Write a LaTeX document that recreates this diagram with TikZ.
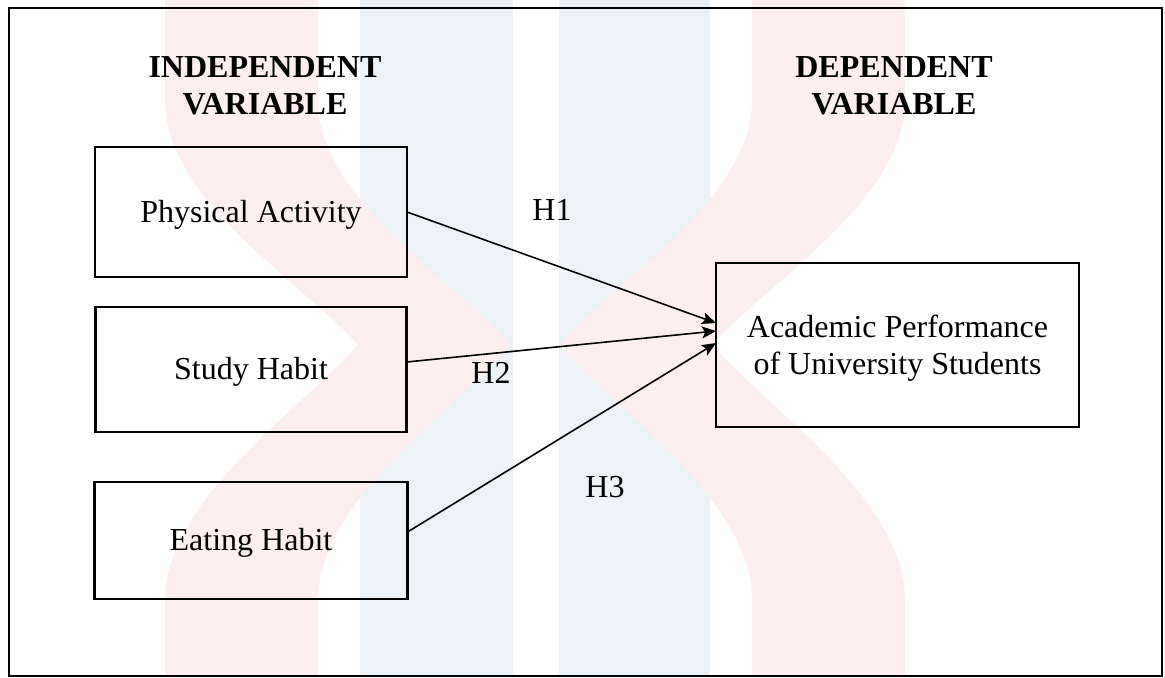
\documentclass[tikz,border=0pt]{standalone}
\usepackage{fontspec}
\setmainfont{Liberation Serif}
\usetikzlibrary{arrows.meta, positioning}
\definecolor{wmpink}{rgb}{0.992,0.937,0.937}
\definecolor{wmblue}{rgb}{0.929,0.949,0.969}
\newcommand{\figfont}{\fontsize{16}{18.5}\selectfont}
\tikzset{
  align=center,
  node distance=15pt,
  ivbox/.style={draw, rectangle, line width=1.2pt, outer sep=0pt, inner sep=0pt, text height=1em, text depth=0pt},
  dvbox/.style={draw, rectangle, line width=1.2pt, outer sep=0pt, inner sep=0pt, minimum width=181.5pt, minimum height=82pt, text depth=-7pt},
  head/.style={font=\figfont\bfseries, inner sep=0pt},
  hyp/.style={inner sep=0pt},
  hto/.style={-{Stealth[length=7pt,width=6pt,inset=1.5pt]}, line width=0.8pt},
  frame/.style={draw, line width=1.3pt}
}

\begin{document}
\begin{tikzpicture}[x=0.5pt, y=-0.5pt, font=\figfont]
  \useasboundingbox (0,0) rectangle (1165,677);

  \fill[wmblue] (360,0) rectangle (513,677);
  \fill[wmblue] (559,0) rectangle (710,677);
  \fill[wmpink] (165,0) -- (165,100) .. controls (165,200) and (300,280) .. (358,345)
    .. controls (300,410) and (165,500) .. (165,600) -- (165,677) -- (318,677) -- (318,600)
    .. controls (318,500) and (455,410) .. (511,345) .. controls (455,280) and (318,200) .. (318,100) -- (318,0) -- cycle;
  \fill[wmpink] (905,0) -- (905,100) .. controls (905,200) and (770,280) .. (712,345)
    .. controls (770,410) and (905,500) .. (905,600) -- (905,677) -- (752,677) -- (752,600)
    .. controls (752,500) and (615,410) .. (559,345) .. controls (615,280) and (752,200) .. (752,100) -- (752,0) -- cycle;

  \draw[frame] (9,8) rectangle (1162,676);

  \node[head] (ivhead) at (265,86) {INDEPENDENT\\VARIABLE};
  \node[head] (dvhead) at (894,86) {DEPENDENT\\VARIABLE};

  \node[ivbox, minimum width=156pt, minimum height=65pt] (pa) at (251,212) {Physical Activity};
  \node[ivbox, minimum width=155.5pt, minimum height=62.5pt, below=of pa] (sh) {Study Habit};
  \node[ivbox, minimum width=156.5pt, minimum height=58.5pt, below=25pt of sh] (eh) {Eating Habit};
  \node[dvbox] (ap) at (897.5,345) {Academic Performance\\of University Students};

  \node[hyp] (h1) at (552,210) {H1};
  \node[hyp] (h2) at (491,373) {H2};
  \node[hyp] (h3) at (605,487) {H3};

  \draw[hto] (pa.east) -- ([yshift=11pt]ap.west);
  \draw[hto] ([yshift=3.75pt]sh.east) -- ([yshift=7pt]ap.west);
  \draw[hto] ([yshift=4.25pt]eh.east) -- ([yshift=1pt]ap.west);
\end{tikzpicture}
\end{document}
